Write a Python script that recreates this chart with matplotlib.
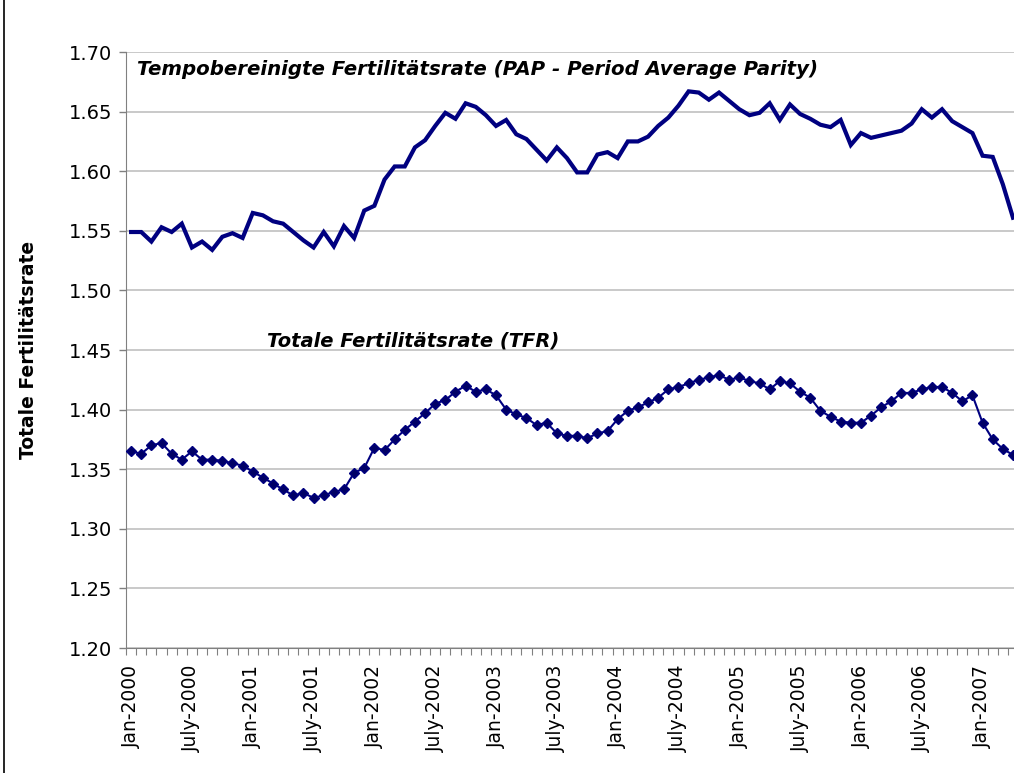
import matplotlib
matplotlib.use('Agg')
import matplotlib.pyplot as plt
from matplotlib.lines import Line2D
from matplotlib.ticker import MultipleLocator, FormatStrFormatter

plt.rcParams['font.family'] = ['DejaVu Sans']

# Monatswerte Jan-2000 .. Apr-2007
months = ['Jan', 'Feb', 'Mar', 'Apr', 'May', 'June', 'July', 'Aug', 'Sep', 'Oct', 'Nov', 'Dec']
month_labels = [f'{m}-{y}' for y in range(2000, 2008) for m in months][:88]

pap = [1.549, 1.549, 1.541, 1.553, 1.549, 1.556, 1.536, 1.541, 1.534, 1.545,
       1.548, 1.544, 1.565, 1.563, 1.558, 1.556, 1.549, 1.542, 1.536, 1.549,
       1.537, 1.554, 1.544, 1.567, 1.571, 1.593, 1.604, 1.604, 1.620, 1.626,
       1.638, 1.649, 1.644, 1.657, 1.654, 1.647, 1.638, 1.643, 1.631, 1.627,
       1.618, 1.609, 1.620, 1.611, 1.599, 1.599, 1.614, 1.616, 1.611, 1.625,
       1.625, 1.629, 1.638, 1.645, 1.655, 1.667, 1.666, 1.660, 1.666, 1.659,
       1.652, 1.647, 1.649, 1.657, 1.643, 1.656, 1.648, 1.644, 1.639, 1.637,
       1.643, 1.622, 1.632, 1.628, 1.630, 1.632, 1.634, 1.640, 1.652, 1.645,
       1.652, 1.642, 1.637, 1.632, 1.613, 1.612, 1.589, 1.561]

tfr = [1.365, 1.363, 1.370, 1.372, 1.363, 1.358, 1.365, 1.358, 1.358, 1.357,
       1.355, 1.353, 1.348, 1.343, 1.338, 1.333, 1.328, 1.330, 1.326, 1.328,
       1.331, 1.333, 1.347, 1.351, 1.368, 1.366, 1.375, 1.383, 1.390, 1.397,
       1.405, 1.408, 1.415, 1.420, 1.415, 1.417, 1.412, 1.400, 1.396, 1.393,
       1.387, 1.389, 1.380, 1.378, 1.378, 1.376, 1.380, 1.382, 1.392, 1.399,
       1.402, 1.406, 1.410, 1.417, 1.419, 1.422, 1.425, 1.427, 1.429, 1.425,
       1.427, 1.424, 1.422, 1.417, 1.424, 1.422, 1.415, 1.410, 1.399, 1.394,
       1.390, 1.389, 1.389, 1.395, 1.402, 1.407, 1.414, 1.414, 1.417, 1.419,
       1.419, 1.414, 1.407, 1.412, 1.389, 1.375, 1.367, 1.362]

x = list(range(len(pap)))

fig = plt.figure(figsize=(10.14, 7.73), dpi=100)
ax = fig.add_axes([0.1243, 0.1617, 0.8757, 0.7710])

ax.plot(x, pap, color='#000080', linewidth=3.0, solid_joinstyle='miter', zorder=3)
ax.plot(x, tfr, color='#000080', linewidth=1.5, marker='D', markersize=5,
        markerfacecolor='#000066', markeredgecolor='#000080', zorder=3)

ax.set_ylim(1.20, 1.70)
ax.set_xlim(-0.5, 87.1)
ax.yaxis.set_major_locator(MultipleLocator(0.05))
ax.yaxis.set_major_formatter(FormatStrFormatter('%.2f'))
ax.grid(axis='y', color='#c0c0c0', linewidth=1.2)
ax.set_axisbelow(True)

# Kategorienachse: Beschriftung alle 6 Monate, Striche zwischen den Monaten
ax.set_xticks(x[::6])
ax.set_xticklabels(month_labels[::6], rotation=90, fontsize=13.5)
ax.set_xticks([i - 0.5 for i in x], minor=True)
ax.tick_params(axis='x', which='major', length=0, pad=12)
ax.tick_params(axis='x', which='minor', length=5, width=0.8, color='#808080', direction='out')
ax.tick_params(axis='y', length=5, width=1, color='#808080', labelsize=14, pad=5)

for s in ['top', 'right']:
    ax.spines[s].set_visible(False)
ax.spines['left'].set_color('#808080')
ax.spines['bottom'].set_color('#808080')

ax.set_ylabel('Totale Fertilitätsrate', fontsize=13.5, fontweight='bold', labelpad=22)

ax.text(0.012, 0.971, 'Tempobereinigte Fertilitätsrate (PAP - Period Average Parity)',
        transform=ax.transAxes, fontsize=14.2, fontweight='bold', fontstyle='italic',
        ha='left', va='center')
ax.text(0.159, 0.515, 'Totale Fertilitätsrate (TFR)',
        transform=ax.transAxes, fontsize=14, fontweight='bold', fontstyle='italic',
        ha='left', va='center')

# Rahmen links
fig.add_artist(Line2D([0.0035, 0.0035], [0, 1], transform=fig.transFigure, color='black', linewidth=1.2))

plt.savefig('out.png', dpi=100)
